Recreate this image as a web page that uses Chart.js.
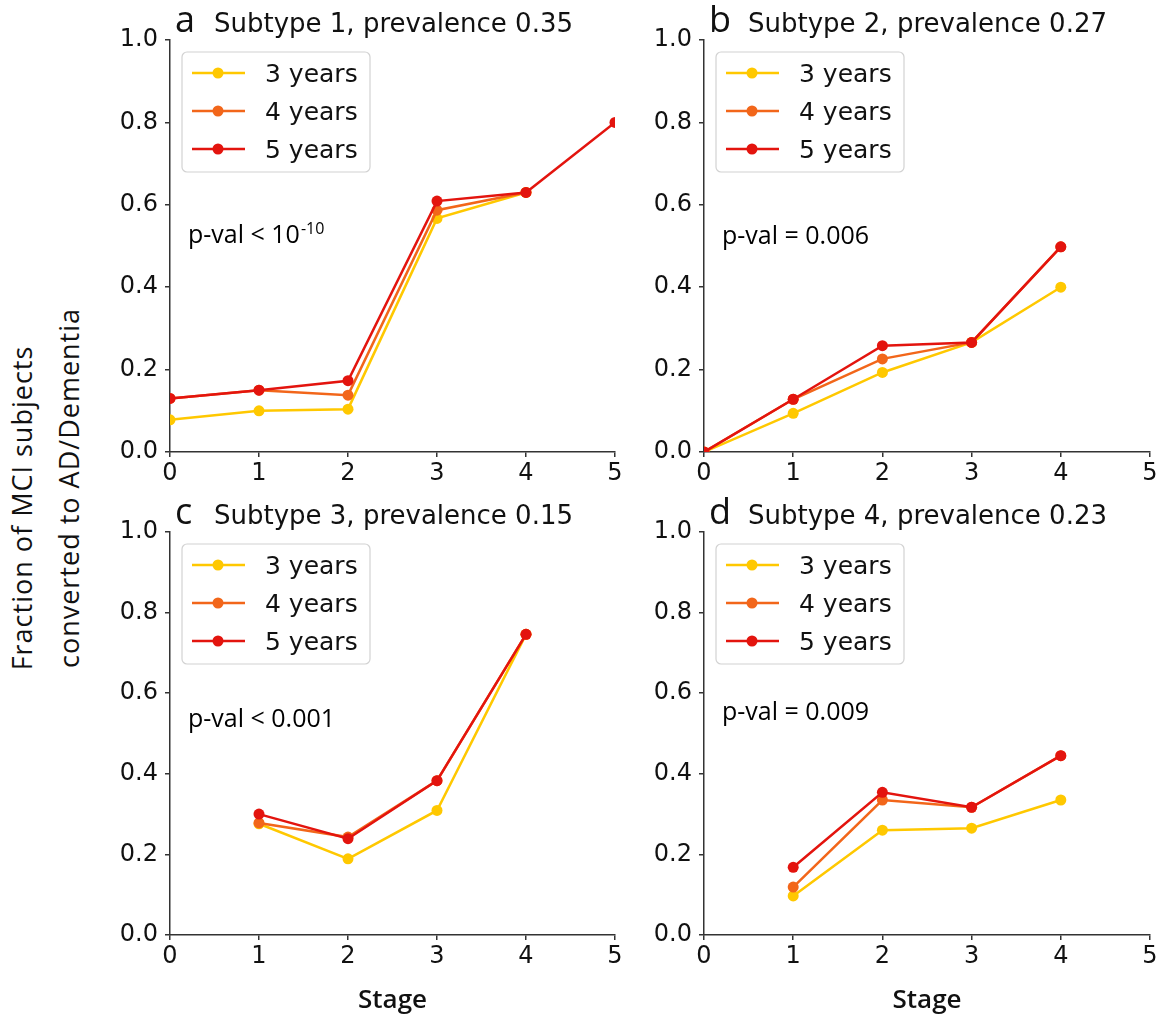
<!DOCTYPE html>
<html>
<head>
<meta charset="utf-8">
<script src="https://cdn.jsdelivr.net/npm/chart.js@4.4.1/dist/chart.umd.min.js"></script>
<style>
  body { margin: 0; background: #fff; width: 1170px; height: 1030px; position: relative; overflow: hidden; }
  canvas { position: absolute; }
  .ylab { position: absolute; width: 400px; height: 30px; line-height: 30px; text-align: center;
          font-family: "Open Sans"; font-size: 27px; letter-spacing: 1px; color: #111;
          transform: rotate(-90deg); white-space: nowrap; }
</style>
</head>
<body>
<div class="ylab" style="left:-178px; top:493px;">Fraction of MCI subjects</div>
<div class="ylab" style="left:-131px; top:473px;">converted to AD/Dementia</div>
<canvas id="pa"></canvas>
<canvas id="pb"></canvas>
<canvas id="pc"></canvas>
<canvas id="pd"></canvas>
<script>
// series labels and colours
const years = ['3 years', '4 years', '5 years'];
const lineColors = ['#FFC800', '#F2661A', '#E3140E'];

// Subtype 1
const stagesA = [0, 1, 2, 3, 4, 5];
const a3 = [0.078, 0.100, 0.104, 0.567, 0.630, null];
const a4 = [0.130, 0.150, 0.138, 0.587, 0.630, null];
const a5 = [0.130, 0.150, 0.173, 0.609, 0.630, 0.800];

// Subtype 2
const stagesB = [0, 1, 2, 3, 4];
const b3 = [0, 0.094, 0.193, 0.266, 0.400];
const b4 = [0, 0.128, 0.226, 0.266, 0.498];
const b5 = [0, 0.128, 0.258, 0.266, 0.498];

// Subtype 3
const stagesC = [1, 2, 3, 4];
const c3 = [0.276, 0.189, 0.309, 0.746];
const c4 = [0.278, 0.243, 0.383, 0.746];
const c5 = [0.300, 0.239, 0.383, 0.746];

// Subtype 4
const stagesD = [1, 2, 3, 4];
const d3 = [0.097, 0.260, 0.265, 0.335];
const d4 = [0.119, 0.335, 0.317, 0.445];
const d5 = [0.168, 0.354, 0.317, 0.445];

const xTicks = [0, 1, 2, 3, 4, 5];
const yTicks = [0, 0.2, 0.4, 0.6, 0.8, 1.0];

// canvas box [left, top, width, height] and plot area [left, top, right, bottom]
const panels = [
  { id: 'pa', letter: 'a', title: 'Subtype 1, prevalence 0.35', stages: stagesA, series: [a3, a4, a5],
    pval: 'p-val < 10', sup: '-10', pvalY: 0.507, stage: false, box: [90, 0, 550, 490], plot: [170, 40, 615, 452] },
  { id: 'pb', letter: 'b', title: 'Subtype 2, prevalence 0.27', stages: stagesB, series: [b3, b4, b5],
    pval: 'p-val = 0.006', sup: '', pvalY: 0.504, stage: false, box: [640, 0, 530, 490], plot: [704, 40, 1150, 452] },
  { id: 'pc', letter: 'c', title: 'Subtype 3, prevalence 0.15', stages: stagesC, series: [c3, c4, c5],
    pval: 'p-val < 0.001', sup: '', pvalY: 0.517, stage: true, box: [90, 490, 550, 540], plot: [170, 532, 615, 935] },
  { id: 'pd', letter: 'd', title: 'Subtype 4, prevalence 0.23', stages: stagesD, series: [d3, d4, d5],
    pval: 'p-val = 0.009', sup: '', pvalY: 0.533, stage: true, box: [640, 490, 530, 540], plot: [704, 532, 1150, 935] }
];

// panel letter + title, p-value note and framed legend
const decor = {
  id: 'decor',
  afterDraw(chart, args, o) {
    const ctx = chart.ctx;
    const a = chart.chartArea;
    ctx.save();
    ctx.textBaseline = 'alphabetic';
    ctx.textAlign = 'left';
    ctx.fillStyle = '#111';
    ctx.font = '36px "Open Sans"';
    ctx.fillText(o.letter, a.left + 5, a.top - 8);
    ctx.font = '26px "DejaVu Sans"';
    ctx.fillText(o.title, a.left + 44, a.top - 8);

    const py = chart.scales.y.getPixelForValue(o.pvalY);
    ctx.fillStyle = '#000';
    ctx.font = '500 25px "Open Sans"';
    ctx.fillText(o.pval, a.left + 18, py);
    if (o.sup) {
      const w = ctx.measureText(o.pval).width;
      ctx.font = '500 16px "Open Sans"';
      ctx.fillText(o.sup, a.left + 18 + w + 1, py - 9);
    }

    const bx = a.left + 12, by = a.top + 12, bw = 188, bh = 120;
    ctx.beginPath();
    ctx.roundRect(bx, by, bw, bh, 5);
    ctx.fillStyle = 'rgba(255,255,255,0.85)';
    ctx.fill();
    ctx.strokeStyle = '#d2d2d2';
    ctx.lineWidth = 1.2;
    ctx.stroke();
    chart.data.datasets.forEach((d, i) => {
      const y = by + 21 + i * 38;
      ctx.strokeStyle = d.borderColor;
      ctx.lineWidth = 2.5;
      ctx.beginPath();
      ctx.moveTo(bx + 10, y);
      ctx.lineTo(bx + 63, y);
      ctx.stroke();
      ctx.fillStyle = d.borderColor;
      ctx.beginPath();
      ctx.arc(bx + 36, y, 5.5, 0, Math.PI * 2);
      ctx.fill();
      ctx.fillStyle = '#111';
      ctx.font = '25px "DejaVu Sans"';
      ctx.fillText(d.label, bx + 83, y + 9);
    });
    ctx.restore();
  }
};

function makeChart(p) {
  const cv = document.getElementById(p.id);
  cv.width = p.box[2];
  cv.height = p.box[3];
  cv.style.left = p.box[0] + 'px';
  cv.style.top = p.box[1] + 'px';
  const yW = p.plot[0] - p.box[0];
  const padTop = p.plot[1] - p.box[1];
  const padRight = p.box[0] + p.box[2] - p.plot[2];
  const xH = p.box[1] + p.box[3] - p.plot[3];

  const datasets = p.series.map((vals, i) => ({
    label: years[i],
    data: p.stages.map((s, k) => ({ x: s, y: vals[k] })).filter(pt => pt.y !== null),
    borderColor: lineColors[i],
    backgroundColor: lineColors[i],
    borderWidth: 2.5,
    pointRadius: 5.5,
    pointHoverRadius: 5.5,
    pointBorderWidth: 0,
    tension: 0,
    order: 3 - i
  }));

  new Chart(cv, {
    type: 'line',
    data: { datasets: datasets },
    plugins: [decor],
    options: {
      responsive: false,
      animation: false,
      events: [],
      layout: { padding: { top: padTop, right: padRight, left: 0, bottom: 0 } },
      plugins: {
        legend: { display: false },
        tooltip: { enabled: false },
        decor: { letter: p.letter, title: p.title, pval: p.pval, sup: p.sup, pvalY: p.pvalY }
      },
      scales: {
        x: {
          type: 'linear', min: 0, max: 5,
          afterBuildTicks: s => { s.ticks = xTicks.map(v => ({ value: v })); },
          ticks: { color: '#111', font: { family: 'DejaVu Sans', size: 24 }, padding: 2, maxRotation: 0,
                   callback: v => String(v) },
          grid: { drawOnChartArea: false, tickLength: 5, color: '#333', lineWidth: 1.5 },
          border: { color: '#333', width: 1.5 },
          title: { display: p.stage, text: 'Stage', color: '#111',
                   font: { family: 'Open Sans', size: 26, weight: '600' }, padding: { top: 0, bottom: 14 } },
          afterFit: s => { s.height = xH; }
        },
        y: {
          min: 0, max: 1,
          afterBuildTicks: s => { s.ticks = yTicks.map(v => ({ value: v })); },
          ticks: { color: '#111', font: { family: 'DejaVu Sans', size: 24 }, padding: 7,
                   callback: v => v.toFixed(1) },
          grid: { drawOnChartArea: false, tickLength: 5, color: '#333', lineWidth: 1.5 },
          border: { color: '#333', width: 1.5 },
          afterFit: s => { s.width = yW; }
        }
      }
    }
  });
}

panels.forEach(makeChart);
</script>
</body>
</html>
